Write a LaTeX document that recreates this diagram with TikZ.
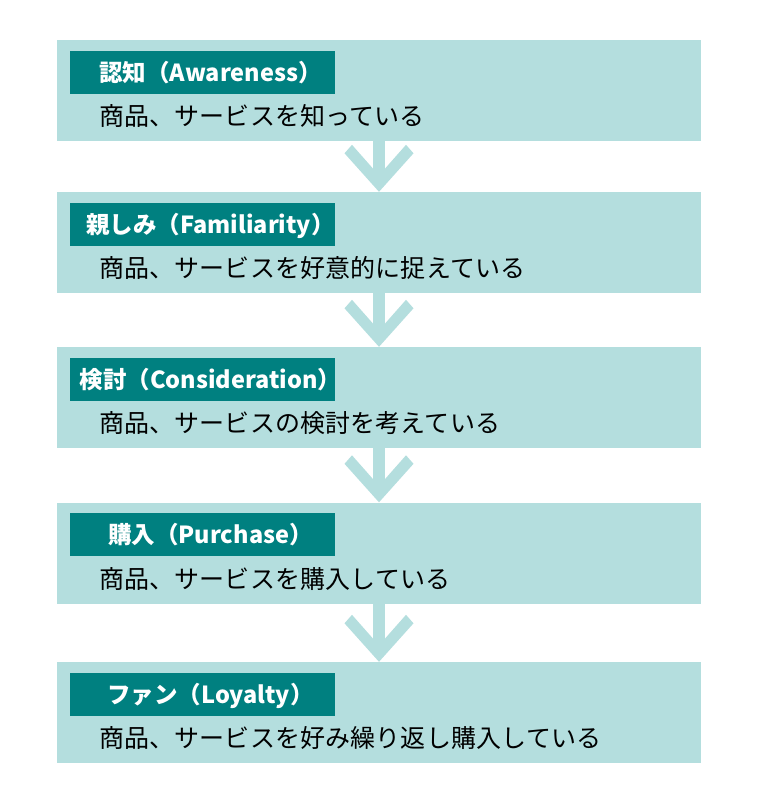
\documentclass[tikz,border=0pt]{standalone}
\usepackage{fontspec}
\setmainfont{Noto Sans CJK JP}
\usetikzlibrary{calc}
\definecolor{lite}{RGB}{180,222,222}
\definecolor{dark}{RGB}{0,128,128}
\tikzset{
  stagebox/.style={fill=lite, draw=none, minimum width=644pt, minimum height=101pt, inner sep=0pt},
  tagbox/.style={fill=dark, draw=none, minimum width=265pt, minimum height=43pt, inner sep=0pt},
  tagtext/.style={anchor=base, inner sep=0pt, text=white, font=\fontsize{23.5}{23.5}\selectfont\bfseries},
  bodytext/.style={anchor=base west, inner sep=0pt, text=black, font=\fontsize{25}{25}\selectfont\addfontfeature{LetterSpace=0.6}},
  chevfill/.style={fill=lite, draw=none}
}
\newcommand\chev[2]{%
  \fill[chevfill] ([xshift=-5.8pt]#1.south) -- ([xshift=-5.8pt,yshift=23pt]#2.north)
    -- ([xshift=-27pt,yshift=47pt]#2.north) -- ([xshift=-34.5pt,yshift=38.5pt]#2.north)
    -- (#2.north) -- ([xshift=34.5pt,yshift=38.5pt]#2.north)
    -- ([xshift=27pt,yshift=47pt]#2.north) -- ([xshift=5.8pt,yshift=23pt]#2.north)
    -- ([xshift=5.8pt]#1.south) -- cycle;}
\begin{document}
\begin{tikzpicture}[x=1pt,y=-1pt]
\useasboundingbox (0,0) rectangle (760,803);
\foreach \i/\t/\h/\b in {
  1/40/認知（Awareness）/商品、サービスを知っている,
  2/192/親しみ（Familiarity）/商品、サービスを好意的に捉えている,
  3/347/検討（Consideration）/商品、サービスの検討を考えている,
  4/502.5/購入（Purchase）/商品、サービスを購入している,
  5/662/ファン（Loyalty）/商品、サービスを好み繰り返し購入している}{
  \node[stagebox] (b\i) at (379,\t+50.5) {};
  \node[tagbox] (l\i) at (202,\t+32) {};
  \node[tagtext] (h\i) at (210.5,\t+41) {\h};
  \node[bodytext] (t\i) at (99,\t+85.5) {\b};
}
\chev{b1}{b2}
\chev{b2}{b3}
\chev{b3}{b4}
\chev{b4}{b5}
\end{tikzpicture}
\end{document}
